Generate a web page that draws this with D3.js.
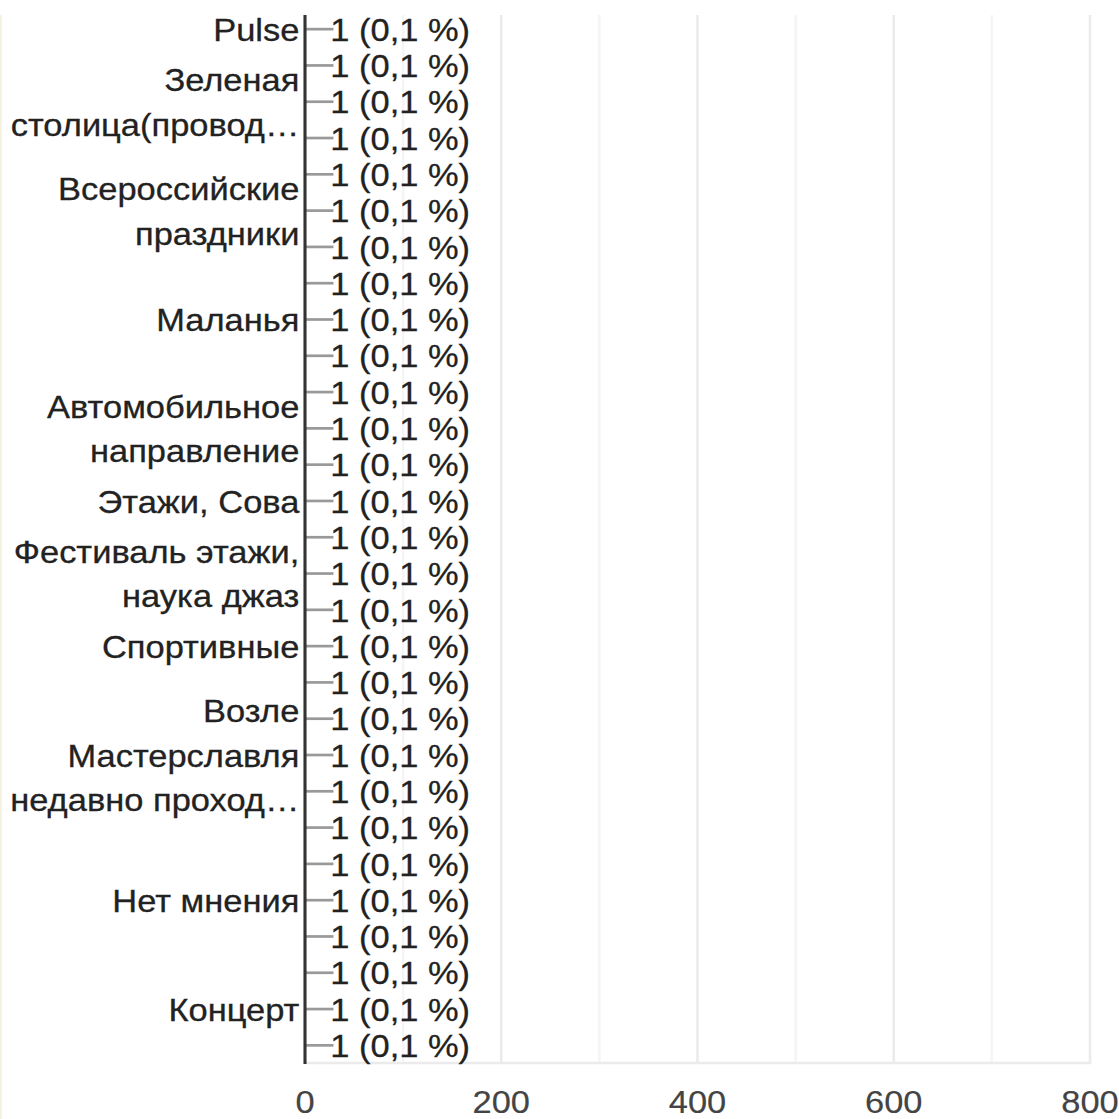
<!DOCTYPE html>
<html>
<head>
<meta charset="utf-8">
<script src="https://cdn.jsdelivr.net/npm/d3@7"></script>
<style>
html, body { margin: 0; padding: 0; background: #fff; overflow: hidden; }
svg { display: block; }
</style>
</head>
<body>
<svg id="chart"></svg>
<script>
// one row per answer, labels shown only where the chart had room for them
const LABELS = [
    ["Pulse"], [], ["Зеленая", "столица(провод…"], [], [],
    ["Всероссийские", "праздники"], [], [], ["Маланья"], [],
    [], ["Автомобильное", "направление"], [], ["Этажи, Сова"], [],
    ["Фестиваль этажи,", "наука джаз"], [], ["Спортивные"], [], [],
    ["Возле", "Мастерславля", "недавно проход…"], [], [], [], ["Нет мнения"],
    [], [], ["Концерт"], []
];
const COUNTS = LABELS.map(() => 1);
const PERCENTS = LABELS.map(() => "0,1 %");
const X_TICKS = [0, 200, 400, 600, 800];
const X_GRID = [100, 200, 300, 400, 500, 600, 700, 800];

window.addEventListener("load", () => {
    const W = 1119, H = 1119;
    const stretch = 1.077; // the reference is drawn a bit wider than tall
    const vw = W / stretch;
    const fs = 32;

    const svg = d3.select("#chart")
        .attr("width", W).attr("height", H)
        .attr("viewBox", "0 0 " + vw + " " + H)
        .attr("preserveAspectRatio", "none");

    const left = 305 / stretch, right = 1090 / stretch, top = 15, bottom = 1063;
    const x = d3.scaleLinear().domain([0, 800]).range([left, right]);
    const y = d3.scaleBand().domain(d3.range(LABELS.length)).range([11, 1063.5]).padding(0);
    const rowY = (i) => y(i) + y.bandwidth() / 2;
    const font = "Arial, 'Liberation Sans', sans-serif";
    const px = (v) => v / stretch; // screen pixels to view units, horizontally

    // faint border on the left
    svg.append("line")
        .attr("x1", px(0.9)).attr("x2", px(0.9)).attr("y1", top).attr("y2", H)
        .attr("stroke", "#f3f0d9").attr("stroke-width", px(1.5));

    // gridlines
    svg.append("g").selectAll("line").data(X_GRID).join("line")
        .attr("x1", d => x(d)).attr("x2", d => x(d))
        .attr("y1", top).attr("y2", bottom)
        .attr("stroke", d => d % 200 === 0 ? "#ebebeb" : "#f5f5f5")
        .attr("stroke-width", px(2.6));

    svg.append("line")
        .attr("x1", x(0)).attr("x2", x(800) + px(1.3))
        .attr("y1", bottom).attr("y2", bottom)
        .attr("stroke", "#ebebeb").attr("stroke-width", 2.5);

    // bars (value 1 is less than a pixel wide)
    svg.append("g").selectAll("rect").data(COUNTS).join("rect")
        .attr("x", x(0))
        .attr("y", (d, i) => y(i) + 4)
        .attr("width", d => x(d) - x(0))
        .attr("height", y.bandwidth() - 8)
        .attr("fill", "#4285f4");

    // annotation stems and labels
    svg.append("g").selectAll("line").data(COUNTS).join("line")
        .attr("x1", d => x(d)).attr("x2", d => x(d) + px(27.5))
        .attr("y1", (d, i) => rowY(i)).attr("y2", (d, i) => rowY(i))
        .attr("stroke", "#999").attr("stroke-width", 2.7);

    svg.append("g").selectAll("text").data(COUNTS).join("text")
        .attr("x", d => x(d) + px(24.3))
        .attr("y", (d, i) => rowY(i))
        .attr("dy", "0.366em")
        .attr("font-family", font).attr("font-size", fs)
        .attr("fill", "#222").attr("stroke", "#222").attr("stroke-width", 0.3)
        .text((d, i) => d + " (" + PERCENTS[i] + ")");

    // y axis line
    svg.append("line")
        .attr("x1", x(0)).attr("x2", x(0)).attr("y1", top).attr("y2", bottom + 1)
        .attr("stroke", "#333").attr("stroke-width", px(3.1));

    // category labels, wrapped lines centred on the row
    const lineH = 44.5;
    const labelG = svg.append("g");
    LABELS.forEach((lines, i) => {
        lines.forEach((line, k) => {
            labelG.append("text")
                .attr("x", x(0) - px(5.6))
                .attr("y", rowY(i) + (k - (lines.length - 1) / 2) * lineH)
                .attr("dy", "0.366em")
                .attr("text-anchor", "end")
                .attr("font-family", font).attr("font-size", fs)
                .attr("fill", "#222").attr("stroke", "#222").attr("stroke-width", 0.3)
                .text(line);
        });
    });

    // x tick labels
    svg.append("g").selectAll("text").data(X_TICKS).join("text")
        .attr("x", d => x(d))
        .attr("y", 1113)
        .attr("text-anchor", "middle")
        .attr("font-family", font).attr("font-size", fs)
        .attr("fill", "#444").attr("stroke", "#444").attr("stroke-width", 0.2)
        .text(d => d);
});
</script>
</body>
</html>
